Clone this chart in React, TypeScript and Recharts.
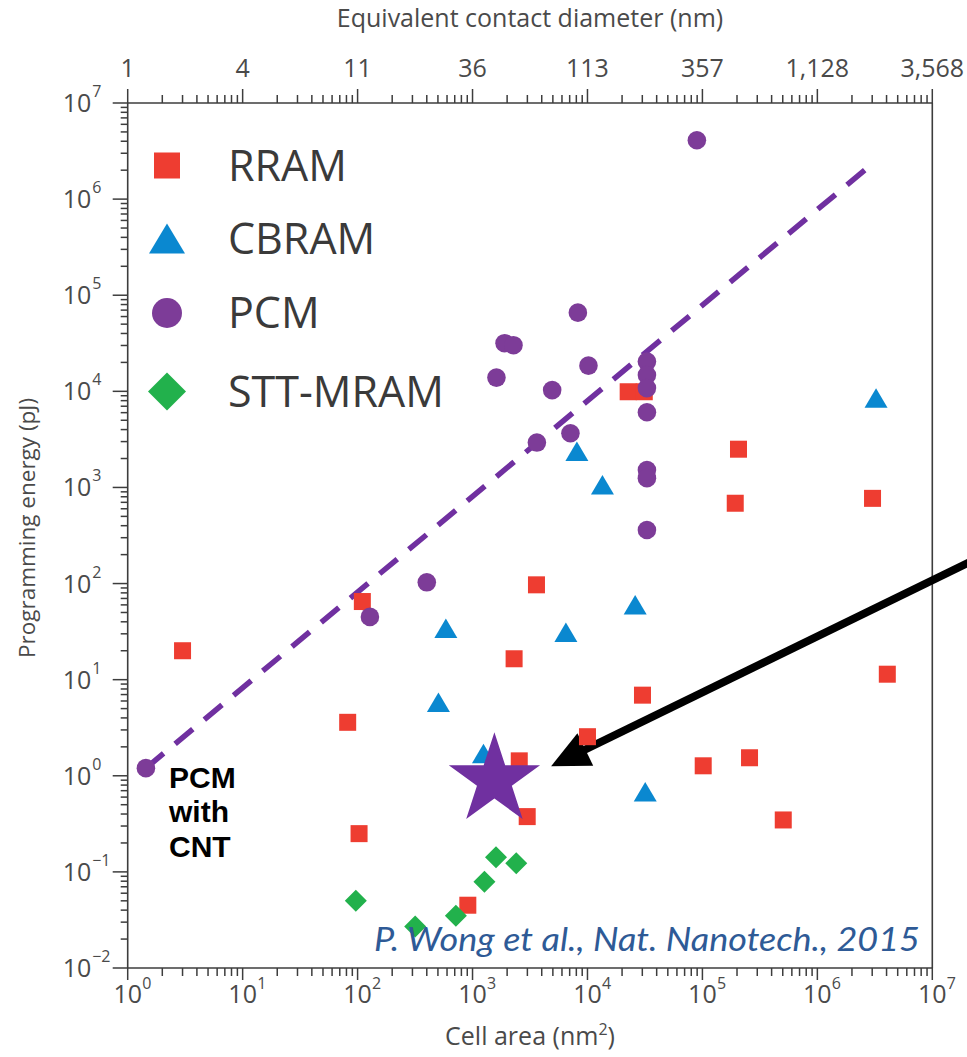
import React from "react"
import { Legend, ReferenceLine, Scatter, ScatterChart, XAxis, YAxis } from "recharts"

// [cell area (nm²), programming energy (pJ)]
const rram: [number, number][] = [
  [3.0, 20], [110, 65], [82, 3.6], [103, 0.25], [910, 0.045], [3600, 97], [2300, 16.5],
  [2550, 1.43], [2990, 0.376], [30100, 6.9], [10000, 2.55], [22600, 9900], [31200, 9900],
  [206000, 2500], [193000, 685], [3.02e6, 770], [4.06e6, 11.4], [101600, 1.27],
  [257000, 1.54], [505000, 0.347],
]
const cbram: [number, number][] = [
  [26000, 60], [586, 34], [6490, 31], [505, 5.8], [1245, 1.7], [31800, 0.68],
  [8090, 2360], [13500, 1060], [3.24e6, 8470],
]
const pcm: [number, number][] = [
  [1.44, 1.2], [128, 45], [400, 103], [3630, 2930], [89500, 4.1e6], [8250, 65900],
  [1900, 31700], [2270, 30200], [1615, 13900], [10200, 18500], [4930, 10300],
  [32900, 20400], [32900, 14800], [32900, 10800], [32900, 6060], [7110, 3660],
  [32900, 1520], [32900, 1250], [32900, 361],
]
const sttMram: [number, number][] = [
  [96.5, 0.05], [317, 0.027], [716, 0.035], [1270, 0.079], [1600, 0.142], [2400, 0.123],
]
const pcmWithCnt: [number, number][] = [[1550, 0.9]]

// annotation lines, in data units
const scalingTrend: [number, number][] = [[1.44, 1.2], [3.0e6, 2.32e6]]
const arrowPath: [number, number][] = [[2.4e7, 180], [4830, 1.26]]

const diameterLabels = ["1", "4", "11", "36", "113", "357", "1,128", "3,568"]
const legendNames = ["RRAM", "CBRAM", "PCM", "STT-MRAM"]

const RED = "#ee3d31"
const BLUE = "#0a88d0"
const PURPLE = "#7d3c98"
const GREEN = "#22b14c"
const STAR = "#7030a0"
const AXIS = "#3d3d3d"
const TEXT = "#4a4a4a"
const FONT = '"Open Sans", sans-serif'

const logTicks = (lo: number, hi: number) => {
  const t: number[] = []
  for (let e = lo; e < hi; e++) for (let m = 1; m < 10; m++) t.push(m * 10 ** e)
  t.push(10 ** hi)
  return t
}
const xTicks = logTicks(0, 7)
const yTicks = logTicks(-2, 7)

const isDecade = (v: number) => {
  const lg = Math.log10(v)
  return Math.abs(lg - Math.round(lg)) < 1e-6
}
const fmtExp = (e: number) => (e < 0 ? `\u2212${-e}` : String(e))
const toPoints = (arr: [number, number][]) => arr.map(([area, energy]) => ({ area, energy }))

const BottomTick = (props: any) => {
  const { x, y, payload } = props
  const major = isDecade(payload.value)
  const exp = Math.round(Math.log10(payload.value))
  return (
    <g>
      <line x1={x} y1={y} x2={x} y2={y + (major ? 12 : 8)} stroke={AXIS} strokeWidth={1.5} />
      {major && (
        <g fontFamily={FONT} fill={TEXT}>
          <text x={x} y={y + 35} textAnchor="middle" fontSize={25}>10</text>
          <text x={x + 14.5} y={y + 21} fontSize={16}>{fmtExp(exp)}</text>
        </g>
      )}
    </g>
  )
}

const TopTick = (props: any) => {
  const { x, y, payload } = props
  const major = isDecade(payload.value)
  const exp = Math.round(Math.log10(payload.value))
  return (
    <g>
      <line x1={x} y1={y} x2={x} y2={y - (major ? 14 : 8)} stroke={AXIS} strokeWidth={1.5} />
      {major && (
        <text x={x} y={y - 26} textAnchor="middle" fontSize={25} fontFamily={FONT} fill={TEXT}>
          {diameterLabels[exp]}
        </text>
      )}
    </g>
  )
}

const LeftTick = (props: any) => {
  const { x, y, payload } = props
  const major = isDecade(payload.value)
  const exp = Math.round(Math.log10(payload.value))
  return (
    <g>
      <line x1={x} y1={y} x2={x - (major ? 15 : 7)} y2={y} stroke={AXIS} strokeWidth={1.5} />
      {major && (
        <g fontFamily={FONT} fill={TEXT}>
          <text x={x - 65} y={y + 9} fontSize={25}>10</text>
          <text x={x - 35.5} y={y - 6} fontSize={16}>{fmtExp(exp)}</text>
        </g>
      )}
    </g>
  )
}

const squareShape = (p: any) => <rect x={p.cx - 8.5} y={p.cy - 8.5} width={17} height={17} fill={RED} />
const circleShape = (p: any) => <circle cx={p.cx} cy={p.cy} r={9.3} fill={PURPLE} />
const triangleShape = (p: any) => (
  <polygon points={`${p.cx},${p.cy - 10} ${p.cx + 11.5},${p.cy + 9.5} ${p.cx - 11.5},${p.cy + 9.5}`} fill={BLUE} />
)
const diamondShape = (p: any) => (
  <polygon points={`${p.cx},${p.cy - 11} ${p.cx + 11},${p.cy} ${p.cx},${p.cy + 11} ${p.cx - 11},${p.cy}`} fill={GREEN} />
)
const starShape = (p: any) => {
  const R = 48
  const r = R * 0.382
  const pts: string[] = []
  for (let i = 0; i < 10; i++) {
    const rad = i % 2 === 0 ? R : r
    const a = -Math.PI / 2 + (i * Math.PI) / 5
    pts.push(`${p.cx + rad * Math.cos(a)},${p.cy + rad * Math.sin(a)}`)
  }
  return <polygon points={pts.join(" ")} fill={STAR} />
}

const arrowShape = (p: any) => {
  const { x1, y1, x2, y2 } = p
  const dx = x2 - x1
  const dy = y2 - y1
  const len = Math.hypot(dx, dy)
  const ux = dx / len
  const uy = dy / len
  const bx = x2 - ux * 38
  const by = y2 - uy * 38
  const nx = -uy
  const ny = ux
  return (
    <g>
      <line x1={x1} y1={y1} x2={bx + ux * 4} y2={by + uy * 4} stroke="#000" strokeWidth={8} />
      <polygon points={`${x2},${y2} ${bx + nx * 18},${by + ny * 18} ${bx - nx * 18},${by - ny * 18}`} fill="#000" />
    </g>
  )
}

const renderLegend = () => {
  const cy = [25.5, 98.5, 173, 251.5]
  return (
    <svg width={360} height={290} style={{ overflow: "visible" }}>
      <rect x={27 - 13} y={cy[0] - 13} width={26} height={26} fill={RED} />
      <polygon points={`27,${cy[1] - 15} ${27 + 18},${cy[1] + 15} ${27 - 18},${cy[1] + 15}`} fill={BLUE} />
      <circle cx={27} cy={cy[2]} r={15} fill={PURPLE} />
      <polygon points={`27,${cy[3] - 19} ${27 + 19},${cy[3]} 27,${cy[3] + 19} ${27 - 19},${cy[3]}`} fill={GREEN} />
      {legendNames.map((name, i) => (
        <text key={name} x={88} y={cy[i] + 15} fontSize={43} fontFamily={FONT} fill="#3a3a3a">
          {name}
        </text>
      ))}
    </svg>
  )
}

export default function App() {
  return (
    <div style={{ position: "absolute", left: 0, top: 0, width: 967, height: 1057, background: "#fff" }}>
      <ScatterChart width={967} height={1057} margin={{ top: 43, right: 34.7, bottom: 29, left: 27.7 }}>
        <XAxis
          xAxisId="bottom"
          dataKey="area"
          type="number"
          scale="log"
          domain={[1, 1e7]}
          allowDataOverflow
          ticks={xTicks}
          interval={0}
          tick={<BottomTick />}
          tickLine={false}
          tickSize={0}
          tickMargin={0}
          height={60}
          axisLine={{ stroke: AXIS, strokeWidth: 1.6 }}
        />
        <XAxis
          xAxisId="top"
          dataKey="area"
          orientation="top"
          type="number"
          scale="log"
          domain={[1, 1e7]}
          allowDataOverflow
          ticks={xTicks}
          interval={0}
          tick={<TopTick />}
          tickLine={false}
          tickSize={0}
          tickMargin={0}
          height={60}
          axisLine={{ stroke: AXIS, strokeWidth: 1.6 }}
        />
        <YAxis
          dataKey="energy"
          type="number"
          scale="log"
          domain={[0.01, 1e7]}
          allowDataOverflow
          ticks={yTicks}
          interval={0}
          tick={<LeftTick />}
          tickLine={false}
          tickSize={0}
          tickMargin={0}
          width={100}
          axisLine={{ stroke: AXIS, strokeWidth: 1.6 }}
        />
        <ReferenceLine xAxisId="bottom" x={1e7} stroke={AXIS} strokeWidth={1.6} />
        <Legend
          layout="vertical"
          align="center"
          verticalAlign="middle"
          wrapperStyle={{ left: 140, top: 140, width: 360, height: 290 }}
          content={renderLegend}
        />
        <Scatter xAxisId="bottom" name="RRAM" data={toPoints(rram)} shape={squareShape} isAnimationActive={false} />
        <Scatter xAxisId="bottom" name="CBRAM" data={toPoints(cbram)} shape={triangleShape} isAnimationActive={false} />
        <Scatter xAxisId="bottom" name="STT-MRAM" data={toPoints(sttMram)} shape={diamondShape} isAnimationActive={false} />
        <Scatter xAxisId="bottom" name="PCM" data={toPoints(pcm)} shape={circleShape} isAnimationActive={false} />
        <ReferenceLine
          xAxisId="bottom"
          segment={scalingTrend.map(([x, y]) => ({ x, y }))}
          stroke={STAR}
          strokeWidth={5.5}
          strokeDasharray="23 15"
          ifOverflow="visible"
        />
        {/* star is tied to the top axis so that axis gets a series (same domain as the bottom one) */}
        <Scatter xAxisId="top" name="PCM with CNT" data={toPoints(pcmWithCnt)} shape={starShape} isAnimationActive={false} />
        <ReferenceLine
          xAxisId="bottom"
          segment={arrowPath.map(([x, y]) => ({ x, y }))}
          shape={arrowShape}
          ifOverflow="visible"
        />
      </ScatterChart>
      <svg
        width={967}
        height={1057}
        style={{ position: "absolute", left: 0, top: 0, pointerEvents: "none" }}
      >
        <text x={530} y={27} textAnchor="middle" fontSize={25} fontFamily={FONT} fill={TEXT}>
          Equivalent contact diameter (nm)
        </text>
        <text x={530} y={1045} textAnchor="middle" fontSize={25} fontFamily={FONT} fill={TEXT}>
          Cell area (nm<tspan dy={-10} fontSize={16}>2</tspan>
          <tspan dy={10}>)</tspan>
        </text>
        <text
          transform="translate(35,528) rotate(-90)"
          textAnchor="middle"
          fontSize={22.5}
          fontFamily={FONT}
          fill={TEXT}
        >
          Programming energy (pJ)
        </text>
        <g fontFamily='"Liberation Sans", Arial, sans-serif' fontWeight="bold" fontSize={30} fill="#000">
          <text x={169} y={788}>PCM</text>
          <text x={169} y={822}>with</text>
          <text x={169} y={857}>CNT</text>
        </g>
        <text
          x={920}
          y={951}
          textAnchor="end"
          fontSize={33}
          textLength={546}
          lengthAdjust="spacingAndGlyphs"
          fontStyle="italic"
          fontFamily="Lato, sans-serif"
          fill="#2e5a96"
        >
          P. Wong et al., Nat. Nanotech., 2015
        </text>
      </svg>
    </div>
  )
}
